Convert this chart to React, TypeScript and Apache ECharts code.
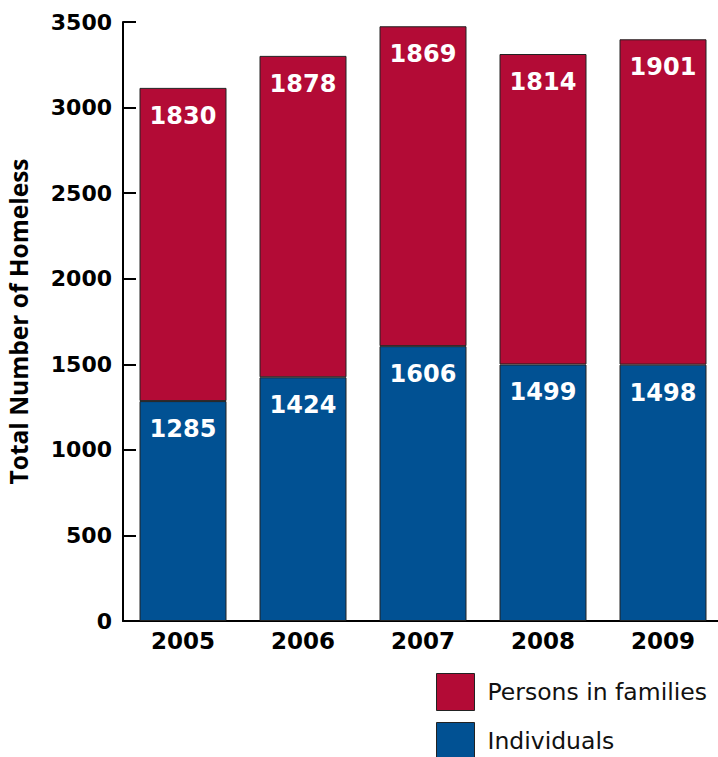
import React, { useEffect, useRef } from "react";
import * as echarts from "echarts";

const years = ["2005", "2006", "2007", "2008", "2009"];
const individuals = [1285, 1424, 1606, 1499, 1498];
const families = [1830, 1878, 1869, 1814, 1901];
const yTicks = { min: 0, max: 3500, interval: 500 };

const RED = "#B30B36";
const BLUE = "#015193";
const FONT = "'Open Sans', 'Noto Sans', sans-serif";
const NUMFONT = "'DejaVu Sans', sans-serif";

export default function App() {
  const ref = useRef<HTMLDivElement>(null);
  useEffect(() => {
    document.body.style.margin = "0";
    const chart = echarts.init(ref.current!, null, { renderer: "svg" });
    const label = {
      show: true,
      position: "insideTop",
      distance: 16,
      color: "#fff",
      fontWeight: "bold",
      fontSize: 24,
      fontFamily: NUMFONT,
    };
    chart.setOption({
      animation: false,
      backgroundColor: "#fff",
      textStyle: { fontFamily: FONT },
      grid: { left: 123, top: 22, width: 600, height: 599, containLabel: false, outerBoundsMode: "none" },
      legend: {
        data: ["Persons in families", "Individuals"],
        orient: "vertical",
        left: 436,
        top: 673,
        height: 120,
        itemWidth: 38,
        itemHeight: 37,
        itemGap: 11,
        padding: 0,
        icon: "rect",
        itemStyle: { borderColor: "#222", borderWidth: 1 },
        textStyle: { fontSize: 23.5, color: "#111", fontFamily: NUMFONT, padding: [0, 0, 0, 8] },
      },
      xAxis: {
        type: "category",
        data: years,
        axisLine: { lineStyle: { color: "#000", width: 2 } },
        axisTick: { inside: true, length: 14, lineStyle: { color: "#000", width: 2 } },
        axisLabel: { color: "#000", fontWeight: "bold", fontSize: 23, fontFamily: NUMFONT, margin: 8 },
      },
      yAxis: {
        type: "value",
        min: yTicks.min,
        max: yTicks.max,
        interval: yTicks.interval,
        name: "Total Number of Homeless",
        nameLocation: "middle",
        nameGap: 92,
        nameTextStyle: { color: "#000", fontWeight: "bold", fontSize: 24.5, fontFamily: FONT },
        splitLine: { show: false },
        axisLine: { show: true, lineStyle: { color: "#000", width: 2 } },
        axisTick: { show: true, inside: true, length: 13, lineStyle: { color: "#000", width: 2 } },
        axisLabel: {
          color: "#000",
          fontWeight: "bold",
          fontSize: 22,
          fontFamily: NUMFONT,
          margin: 11,
          formatter: (v: number) => String(v),
        },
      },
      series: [
        {
          name: "Individuals",
          type: "bar",
          stack: "total",
          barWidth: 87,
          data: individuals,
          itemStyle: { color: BLUE, borderColor: "#222", borderWidth: 1 },
          label,
        },
        {
          name: "Persons in families",
          type: "bar",
          stack: "total",
          barWidth: 87,
          data: families,
          itemStyle: { color: RED, borderColor: "#222", borderWidth: 1 },
          label,
        },
      ],
    });
    return () => chart.dispose();
  }, []);
  return <div ref={ref} style={{ width: 718, height: 757 }} />;
}
